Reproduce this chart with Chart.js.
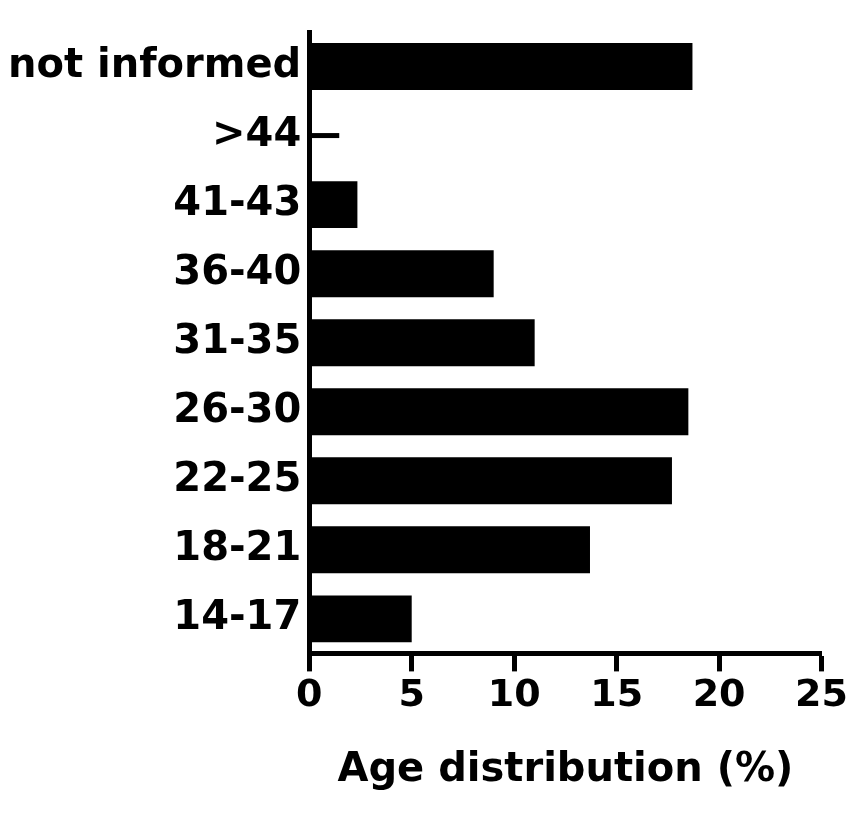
<!DOCTYPE html>
<html lang="en">
<head>
  <meta charset="UTF-8" />
  <title>Age distribution</title>
  <script src="https://cdn.jsdelivr.net/npm/chart.js"></script>
</head>
<body style="margin:0;background:#fff">
  <div style="width:850px;height:813px"><canvas id="ageChart"></canvas></div>
  <script>
    const categories = ['not informed', '>44', '41-43', '36-40', '31-35', '26-30', '22-25', '18-21', '14-17'];
    const percentages = [18.7, 0, 2.35, 9.0, 11.0, 18.5, 17.7, 13.7, 5.0];
    const xTicks = [0, 5, 10, 15, 20, 25];

    // y-axis ticks point inward (right of the axis) in the original
    const inwardTicks = {
      id: 'inwardTicks',
      afterDatasetsDraw(chart) {
        const { ctx, scales: { x, y } } = chart;
        ctx.save();
        ctx.strokeStyle = '#000';
        ctx.lineWidth = 5;
        categories.forEach((c, i) => {
          const py = y.getPixelForValue(i);
          ctx.beginPath();
          ctx.moveTo(x.left, py);
          ctx.lineTo(x.left + 30, py);
          ctx.stroke();
        });
        ctx.restore();
      }
    };

    const font = 'DejaVu Sans';

    new Chart(document.getElementById('ageChart'), {
      type: 'bar',
      data: {
        labels: categories,
        datasets: [{
          data: percentages,
          backgroundColor: '#000',
          categoryPercentage: 0.68,
          barPercentage: 1
        }]
      },
      options: {
        indexAxis: 'y',
        responsive: true,
        maintainAspectRatio: false,
        animation: false,
        layout: { padding: { top: 8, right: 18, left: 0, bottom: 14 } },
        plugins: { legend: { display: false }, tooltip: { enabled: false } },
        scales: {
          x: {
            min: 0, max: 25,
            afterBuildTicks: s => { s.ticks = xTicks.map(v => ({ value: v })); },
            grid: { display: true, drawOnChartArea: false, drawTicks: true, tickLength: 18, tickWidth: 5, tickColor: '#000' },
            border: { color: '#000', width: 5 },
            ticks: { color: '#000', font: { family: font, size: 38, weight: 'bold' }, padding: 2 },
            title: { display: true, text: 'Age distribution (%)', color: '#000', font: { family: font, size: 40, weight: 'bold' }, padding: { top: 26 } }
          },
          y: {
            grid: { display: true, drawOnChartArea: false, drawTicks: false },
            border: { color: '#000', width: 5 },
            ticks: { color: '#000', font: { family: font, size: 40, weight: 'bold' }, padding: 8 }
          }
        }
      },
      plugins: [inwardTicks]
    });
  </script>
</body>
</html>
